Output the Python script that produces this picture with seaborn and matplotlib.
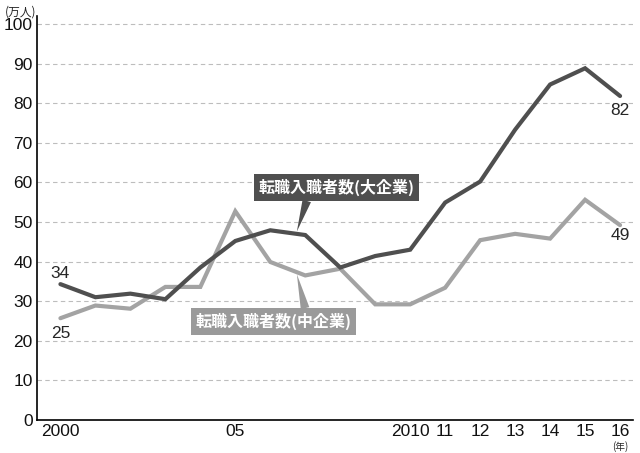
import matplotlib
matplotlib.use("Agg")
import matplotlib.pyplot as plt
import numpy as np
import pandas as pd
import seaborn as sns

# ── data ──────────────────────────────────────────────────────────────────────
years = list(range(2000, 2017))
large_firms = [34.3, 31.0, 31.9, 30.5, 38.5, 45.2, 47.9, 46.7, 38.5, 41.4,
               43.0, 54.9, 60.2, 73.3, 84.7, 88.8, 81.8]
mid_firms = [25.7, 28.9, 28.1, 33.6, 33.6, 52.7, 39.9, 36.5, 38.2, 29.2,
             29.2, 33.4, 45.4, 47.0, 45.8, 55.6, 49.2]
# values printed at the ends of the lines (as published)
large_end_labels = ["34", "82"]
mid_end_labels = ["25", "49"]
x_ticklabels = ["2000", "", "", "", "", "05", "", "", "", "",
                "2010", "11", "12", "13", "14", "15", "16"]
y_ticks = list(range(0, 101, 10))
label_large = "転職入職者数(大企業)"
label_mid = "転職入職者数(中企業)"

DARK = "#4f4f4f"
LIGHT = "#a3a3a3"
JP = ["Noto Sans CJK JP", "DejaVu Sans"]

sns.set_theme(style="white")
plt.rcParams["font.family"] = ["Liberation Sans", "Noto Sans CJK JP", "DejaVu Sans"]

df = pd.DataFrame({"year": years, "large": large_firms, "mid": mid_firms})

fig = plt.figure(figsize=(6.4, 4.53), dpi=100)
ax = fig.add_axes([37 / 640, 1 - 420 / 453, (633 - 37) / 640, (420 - 16) / 453])

sns.lineplot(data=df, x="year", y="mid", ax=ax, color=LIGHT, linewidth=3.0,
             solid_joinstyle="miter")
sns.lineplot(data=df, x="year", y="large", ax=ax, color=DARK, linewidth=3.0,
             solid_joinstyle="miter")

ax.set_xlim(1999.33, 2016.37)
ax.set_ylim(0, 102)
ax.set_xticks(years)
ax.set_xticklabels(x_ticklabels)
ax.set_yticks(y_ticks)
ax.set_xlabel("")
ax.set_ylabel("")

for v in y_ticks[1:]:
    ax.axhline(v, color="#bdbdbd", linewidth=0.8, linestyle=(0, (4, 3)), zorder=0)

for side in ["top", "right"]:
    ax.spines[side].set_visible(False)
for side in ["left", "bottom"]:
    ax.spines[side].set_color("black")
    ax.spines[side].set_linewidth(1.2)

ax.tick_params(axis="both", direction="in", length=7, width=1, color="black",
               labelsize=12.5, pad=2)
ax.tick_params(axis="y", pad=3)
ax.tick_params(axis="x", pad=3)
for t in ax.get_yticklabels() + ax.get_xticklabels():
    t.set_color("#111111")

# unit labels
fig.text(5 / 640, 1 - 12 / 453, "(万人)", fontsize=8.5, ha="left", va="center",
         family=JP)
fig.text(620 / 640, 1 - 447 / 453, "(年)", fontsize=7, ha="center", va="center",
         family=JP)

# end-point values
ax.annotate(large_end_labels[0], (years[0], large_firms[0]), xytext=(0, 11),
            textcoords="offset pixels", ha="center", va="center", fontsize=12.5)
ax.annotate(mid_end_labels[0], (years[0], mid_firms[0]), xytext=(0, -15),
            textcoords="offset pixels", ha="center", va="center", fontsize=12.5)
ax.annotate(large_end_labels[1], (years[-1], large_firms[-1]), xytext=(0, -14),
            textcoords="offset pixels", ha="center", va="center", fontsize=12.5)
ax.annotate(mid_end_labels[1], (years[-1], mid_firms[-1]), xytext=(0, -10),
            textcoords="offset pixels", ha="center", va="center", fontsize=12.5)

# series labels with wedge pointers
ax.annotate(label_large, xy=(2006.76, 47.6), xytext=(2007.89, 58.7),
            ha="center", va="center", fontsize=11.5, color="white", weight="bold",
            family=JP,
            bbox=dict(boxstyle="square,pad=0.3", fc=DARK, ec="none"),
            arrowprops=dict(arrowstyle="wedge,tail_width=0.55,shrink_factor=0.5",
                            fc=DARK, ec="none", relpos=(0.32, 0.0),
                            shrinkA=0, shrinkB=0))
ax.annotate(label_mid, xy=(2006.76, 36.8), xytext=(2006.09, 24.85),
            ha="center", va="center", fontsize=11.5, color="white", weight="bold",
            family=JP,
            bbox=dict(boxstyle="square,pad=0.3", fc="#9a9a9a", ec="none"),
            arrowprops=dict(arrowstyle="wedge,tail_width=0.55,shrink_factor=0.5",
                            fc="#9a9a9a", ec="none", relpos=(0.71, 1.0),
                            shrinkA=0, shrinkB=0))

fig.savefig("out.png", dpi=100, facecolor="white")
